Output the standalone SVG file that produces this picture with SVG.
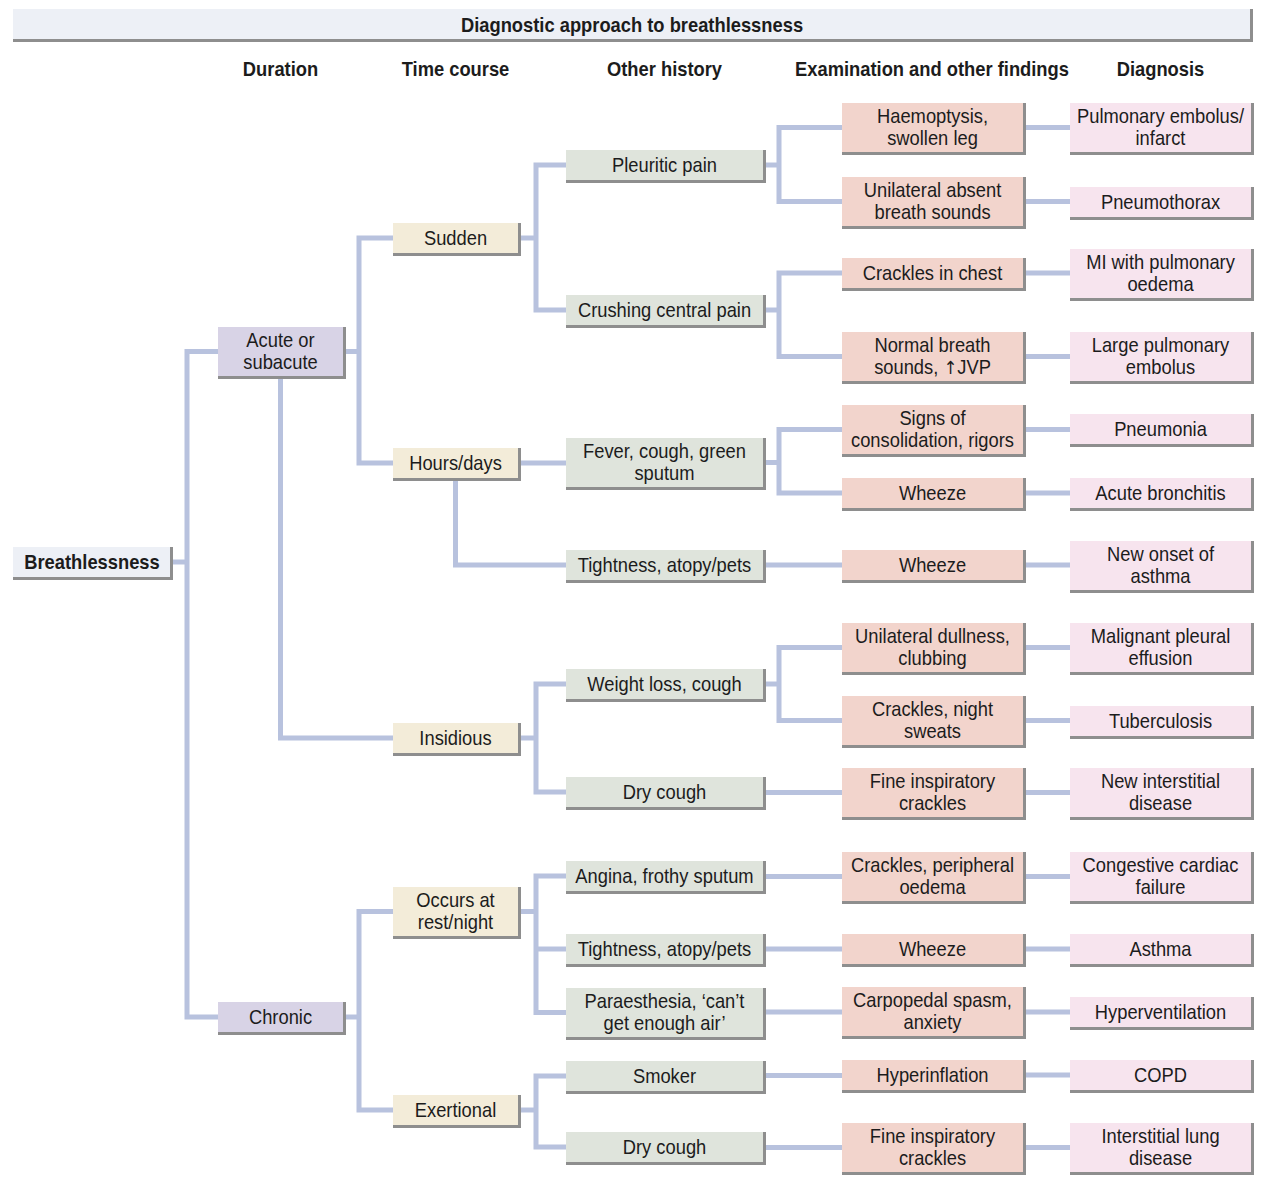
<svg xmlns="http://www.w3.org/2000/svg" width="1272" height="1179" viewBox="0 0 1272 1179">
<style>
.sh{fill:#8e8e8e}
.bl{fill:#edf0f6}.du{fill:#d8d3e6}.tc{fill:#f3ecd9}.oh{fill:#dfe4dc}.ex{fill:#f2d4cc}.dx{fill:#f7e4ee}
text{font-family:"Liberation Sans",Arial,sans-serif;font-size:20px;fill:#1c1c1c;text-anchor:middle}
.b{font-weight:bold}
.ar{font-family:"DejaVu Sans",sans-serif;font-size:18px}
#connectors path{stroke:#b8c2de;stroke-width:5;fill:none;stroke-linejoin:miter}
</style>
<rect width="1272" height="1179" fill="#ffffff"/>
<g id="title">
<rect class="sh" x="13" y="9" width="1240" height="33"/>
<rect class="bl" x="13" y="9" width="1237" height="30"/>
<text class="b" transform="translate(632 0) scale(0.917 1)" y="32">Diagnostic approach to breathlessness</text>
</g>
<g id="headers">
<text class="b" transform="translate(280.5 0) scale(0.917 1)" y="76">Duration</text>
<text class="b" transform="translate(455.5 0) scale(0.917 1)" y="76">Time course</text>
<text class="b" transform="translate(664.5 0) scale(0.917 1)" y="76">Other history</text>
<text class="b" transform="translate(932 0) scale(0.917 1)" y="76">Examination and other findings</text>
<text class="b" transform="translate(1160.5 0) scale(0.917 1)" y="76">Diagnosis</text>
</g>
<g id="connectors">
<path d="M170,562 H187"/>
<path d="M218,351.5 H187 V1017 H218"/>
<path d="M343,351.5 H359"/>
<path d="M393,238 H359 V463 H393"/>
<path d="M280.5,376 V738 H393"/>
<path d="M518,238 H536"/>
<path d="M566,165 H536 V310 H566"/>
<path d="M518,463 H566"/>
<path d="M455.5,478 V565 H566"/>
<path d="M518,738 H536"/>
<path d="M566,684 H536 V792 H566"/>
<path d="M343,1017 H359"/>
<path d="M393,911.5 H359 V1110 H393"/>
<path d="M518,911.5 H536"/>
<path d="M566,876 H536 V1012.5 H566"/>
<path d="M536,949 H566"/>
<path d="M518,1110 H536"/>
<path d="M566,1076 H536 V1147 H566"/>
<path d="M763,165 H779"/>
<path d="M842,127.5 H779 V201.5 H842"/>
<path d="M763,310 H779"/>
<path d="M842,273 H779 V356.5 H842"/>
<path d="M763,462.5 H779"/>
<path d="M842,429.5 H779 V493 H842"/>
<path d="M763,565 H842"/>
<path d="M763,684 H779"/>
<path d="M842,647.5 H779 V720.5 H842"/>
<path d="M763,792.5 H842"/>
<path d="M763,876.5 H842"/>
<path d="M763,949 H842"/>
<path d="M763,1012 H842"/>
<path d="M763,1075.5 H842"/>
<path d="M763,1147.5 H842"/>
<path d="M1023,127.5 H1070"/>
<path d="M1023,201.5 H1070"/>
<path d="M1023,273 H1070"/>
<path d="M1023,356.5 H1070"/>
<path d="M1023,429.5 H1070"/>
<path d="M1023,493 H1070"/>
<path d="M1023,565 H1070"/>
<path d="M1023,647.5 H1070"/>
<path d="M1023,720.5 H1070"/>
<path d="M1023,792.5 H1070"/>
<path d="M1023,876.5 H1070"/>
<path d="M1023,949 H1070"/>
<path d="M1023,1012 H1070"/>
<path d="M1023,1075 H1070"/>
<path d="M1023,1147.5 H1070"/>
</g>
<g id="n-breathlessness"><rect class="sh" x="13" y="547" width="160" height="33"/><rect class="bl" x="13" y="547" width="157" height="30"/><text class="b" transform="translate(92 0) scale(0.917 1)" y="569">Breathlessness</text></g>
<g id="n-acute"><rect class="sh" x="218" y="327" width="128" height="52"/><rect class="du" x="218" y="327" width="125" height="49"/><text transform="translate(280.5 0) scale(0.917 1)" y="347"><tspan x="0">Acute or</tspan><tspan x="0" dy="22">subacute</tspan></text></g>
<g id="n-chronic"><rect class="sh" x="218" y="1002" width="128" height="33"/><rect class="du" x="218" y="1002" width="125" height="30"/><text transform="translate(280.5 0) scale(0.917 1)" y="1024">Chronic</text></g>
<g id="n-sudden"><rect class="sh" x="393" y="223" width="128" height="33"/><rect class="tc" x="393" y="223" width="125" height="30"/><text transform="translate(455.5 0) scale(0.917 1)" y="245">Sudden</text></g>
<g id="n-hours"><rect class="sh" x="393" y="448" width="128" height="33"/><rect class="tc" x="393" y="448" width="125" height="30"/><text transform="translate(455.5 0) scale(0.917 1)" y="470">Hours/days</text></g>
<g id="n-insidious"><rect class="sh" x="393" y="723" width="128" height="33"/><rect class="tc" x="393" y="723" width="125" height="30"/><text transform="translate(455.5 0) scale(0.917 1)" y="745">Insidious</text></g>
<g id="n-occurs"><rect class="sh" x="393" y="887" width="128" height="52"/><rect class="tc" x="393" y="887" width="125" height="49"/><text transform="translate(455.5 0) scale(0.917 1)" y="907"><tspan x="0">Occurs at</tspan><tspan x="0" dy="22">rest/night</tspan></text></g>
<g id="n-exertional"><rect class="sh" x="393" y="1095" width="128" height="33"/><rect class="tc" x="393" y="1095" width="125" height="30"/><text transform="translate(455.5 0) scale(0.917 1)" y="1117">Exertional</text></g>
<g id="n-pleuritic"><rect class="sh" x="566" y="150" width="200" height="33"/><rect class="oh" x="566" y="150" width="197" height="30"/><text transform="translate(664.5 0) scale(0.917 1)" y="172">Pleuritic pain</text></g>
<g id="n-crushing"><rect class="sh" x="566" y="295" width="200" height="33"/><rect class="oh" x="566" y="295" width="197" height="30"/><text transform="translate(664.5 0) scale(0.917 1)" y="317">Crushing central pain</text></g>
<g id="n-fever"><rect class="sh" x="566" y="438" width="200" height="52"/><rect class="oh" x="566" y="438" width="197" height="49"/><text transform="translate(664.5 0) scale(0.917 1)" y="458"><tspan x="0">Fever, cough, green</tspan><tspan x="0" dy="22">sputum</tspan></text></g>
<g id="n-tightness1"><rect class="sh" x="566" y="550" width="200" height="33"/><rect class="oh" x="566" y="550" width="197" height="30"/><text transform="translate(664.5 0) scale(0.917 1)" y="572">Tightness, atopy/pets</text></g>
<g id="n-weightloss"><rect class="sh" x="566" y="669" width="200" height="33"/><rect class="oh" x="566" y="669" width="197" height="30"/><text transform="translate(664.5 0) scale(0.917 1)" y="691">Weight loss, cough</text></g>
<g id="n-drycough1"><rect class="sh" x="566" y="777" width="200" height="33"/><rect class="oh" x="566" y="777" width="197" height="30"/><text transform="translate(664.5 0) scale(0.917 1)" y="799">Dry cough</text></g>
<g id="n-angina"><rect class="sh" x="566" y="861" width="200" height="33"/><rect class="oh" x="566" y="861" width="197" height="30"/><text transform="translate(664.5 0) scale(0.917 1)" y="883">Angina, frothy sputum</text></g>
<g id="n-tightness2"><rect class="sh" x="566" y="934" width="200" height="33"/><rect class="oh" x="566" y="934" width="197" height="30"/><text transform="translate(664.5 0) scale(0.917 1)" y="956">Tightness, atopy/pets</text></g>
<g id="n-paraesthesia"><rect class="sh" x="566" y="988" width="200" height="52"/><rect class="oh" x="566" y="988" width="197" height="49"/><text transform="translate(664.5 0) scale(0.917 1)" y="1008"><tspan x="0">Paraesthesia, ‘can’t</tspan><tspan x="0" dy="22">get enough air’</tspan></text></g>
<g id="n-smoker"><rect class="sh" x="566" y="1061" width="200" height="33"/><rect class="oh" x="566" y="1061" width="197" height="30"/><text transform="translate(664.5 0) scale(0.917 1)" y="1083">Smoker</text></g>
<g id="n-drycough2"><rect class="sh" x="566" y="1132" width="200" height="33"/><rect class="oh" x="566" y="1132" width="197" height="30"/><text transform="translate(664.5 0) scale(0.917 1)" y="1154">Dry cough</text></g>
<g id="n-haemoptysis"><rect class="sh" x="842" y="103" width="184" height="52"/><rect class="ex" x="842" y="103" width="181" height="49"/><text transform="translate(932.5 0) scale(0.917 1)" y="123"><tspan x="0">Haemoptysis,</tspan><tspan x="0" dy="22">swollen leg</tspan></text></g>
<g id="n-unilateralabsent"><rect class="sh" x="842" y="177" width="184" height="52"/><rect class="ex" x="842" y="177" width="181" height="49"/><text transform="translate(932.5 0) scale(0.917 1)" y="197"><tspan x="0">Unilateral absent</tspan><tspan x="0" dy="22">breath sounds</tspan></text></g>
<g id="n-cracklesinchest"><rect class="sh" x="842" y="258" width="184" height="33"/><rect class="ex" x="842" y="258" width="181" height="30"/><text transform="translate(932.5 0) scale(0.917 1)" y="280">Crackles in chest</text></g>
<g id="n-normalbreath"><rect class="sh" x="842" y="332" width="184" height="52"/><rect class="ex" x="842" y="332" width="181" height="49"/><text transform="translate(932.5 0) scale(0.917 1)" y="352"><tspan x="0">Normal breath</tspan><tspan x="0" dy="22">sounds, <tspan class="ar">↑</tspan>JVP</tspan></text></g>
<g id="n-signs"><rect class="sh" x="842" y="405" width="184" height="52"/><rect class="ex" x="842" y="405" width="181" height="49"/><text transform="translate(932.5 0) scale(0.917 1)" y="425"><tspan x="0">Signs of</tspan><tspan x="0" dy="22">consolidation, rigors</tspan></text></g>
<g id="n-wheeze1"><rect class="sh" x="842" y="478" width="184" height="33"/><rect class="ex" x="842" y="478" width="181" height="30"/><text transform="translate(932.5 0) scale(0.917 1)" y="500">Wheeze</text></g>
<g id="n-wheeze2"><rect class="sh" x="842" y="550" width="184" height="33"/><rect class="ex" x="842" y="550" width="181" height="30"/><text transform="translate(932.5 0) scale(0.917 1)" y="572">Wheeze</text></g>
<g id="n-dullness"><rect class="sh" x="842" y="623" width="184" height="52"/><rect class="ex" x="842" y="623" width="181" height="49"/><text transform="translate(932.5 0) scale(0.917 1)" y="643"><tspan x="0">Unilateral dullness,</tspan><tspan x="0" dy="22">clubbing</tspan></text></g>
<g id="n-nightsweats"><rect class="sh" x="842" y="696" width="184" height="52"/><rect class="ex" x="842" y="696" width="181" height="49"/><text transform="translate(932.5 0) scale(0.917 1)" y="716"><tspan x="0">Crackles, night</tspan><tspan x="0" dy="22">sweats</tspan></text></g>
<g id="n-fine1"><rect class="sh" x="842" y="768" width="184" height="52"/><rect class="ex" x="842" y="768" width="181" height="49"/><text transform="translate(932.5 0) scale(0.917 1)" y="788"><tspan x="0">Fine inspiratory</tspan><tspan x="0" dy="22">crackles</tspan></text></g>
<g id="n-peripheral"><rect class="sh" x="842" y="852" width="184" height="52"/><rect class="ex" x="842" y="852" width="181" height="49"/><text transform="translate(932.5 0) scale(0.917 1)" y="872"><tspan x="0">Crackles, peripheral</tspan><tspan x="0" dy="22">oedema</tspan></text></g>
<g id="n-wheeze3"><rect class="sh" x="842" y="934" width="184" height="33"/><rect class="ex" x="842" y="934" width="181" height="30"/><text transform="translate(932.5 0) scale(0.917 1)" y="956">Wheeze</text></g>
<g id="n-carpopedal"><rect class="sh" x="842" y="987" width="184" height="52"/><rect class="ex" x="842" y="987" width="181" height="49"/><text transform="translate(932.5 0) scale(0.917 1)" y="1007"><tspan x="0">Carpopedal spasm,</tspan><tspan x="0" dy="22">anxiety</tspan></text></g>
<g id="n-hyperinflation"><rect class="sh" x="842" y="1060" width="184" height="33"/><rect class="ex" x="842" y="1060" width="181" height="30"/><text transform="translate(932.5 0) scale(0.917 1)" y="1082">Hyperinflation</text></g>
<g id="n-fine2"><rect class="sh" x="842" y="1123" width="184" height="52"/><rect class="ex" x="842" y="1123" width="181" height="49"/><text transform="translate(932.5 0) scale(0.917 1)" y="1143"><tspan x="0">Fine inspiratory</tspan><tspan x="0" dy="22">crackles</tspan></text></g>
<g id="d-pe"><rect class="sh" x="1070" y="103" width="184" height="52"/><rect class="dx" x="1070" y="103" width="181" height="49"/><text transform="translate(1160.5 0) scale(0.917 1)" y="123"><tspan x="0">Pulmonary embolus/</tspan><tspan x="0" dy="22">infarct</tspan></text></g>
<g id="d-pneumothorax"><rect class="sh" x="1070" y="187" width="184" height="33"/><rect class="dx" x="1070" y="187" width="181" height="30"/><text transform="translate(1160.5 0) scale(0.917 1)" y="209">Pneumothorax</text></g>
<g id="d-mi"><rect class="sh" x="1070" y="249" width="184" height="52"/><rect class="dx" x="1070" y="249" width="181" height="49"/><text transform="translate(1160.5 0) scale(0.917 1)" y="269"><tspan x="0">MI with pulmonary</tspan><tspan x="0" dy="22">oedema</tspan></text></g>
<g id="d-largepe"><rect class="sh" x="1070" y="332" width="184" height="52"/><rect class="dx" x="1070" y="332" width="181" height="49"/><text transform="translate(1160.5 0) scale(0.917 1)" y="352"><tspan x="0">Large pulmonary</tspan><tspan x="0" dy="22">embolus</tspan></text></g>
<g id="d-pneumonia"><rect class="sh" x="1070" y="414" width="184" height="33"/><rect class="dx" x="1070" y="414" width="181" height="30"/><text transform="translate(1160.5 0) scale(0.917 1)" y="436">Pneumonia</text></g>
<g id="d-bronchitis"><rect class="sh" x="1070" y="478" width="184" height="33"/><rect class="dx" x="1070" y="478" width="181" height="30"/><text transform="translate(1160.5 0) scale(0.917 1)" y="500">Acute bronchitis</text></g>
<g id="d-newasthma"><rect class="sh" x="1070" y="541" width="184" height="52"/><rect class="dx" x="1070" y="541" width="181" height="49"/><text transform="translate(1160.5 0) scale(0.917 1)" y="561"><tspan x="0">New onset of</tspan><tspan x="0" dy="22">asthma</tspan></text></g>
<g id="d-malignant"><rect class="sh" x="1070" y="623" width="184" height="52"/><rect class="dx" x="1070" y="623" width="181" height="49"/><text transform="translate(1160.5 0) scale(0.917 1)" y="643"><tspan x="0">Malignant pleural</tspan><tspan x="0" dy="22">effusion</tspan></text></g>
<g id="d-tb"><rect class="sh" x="1070" y="706" width="184" height="33"/><rect class="dx" x="1070" y="706" width="181" height="30"/><text transform="translate(1160.5 0) scale(0.917 1)" y="728">Tuberculosis</text></g>
<g id="d-newinterstitial"><rect class="sh" x="1070" y="768" width="184" height="52"/><rect class="dx" x="1070" y="768" width="181" height="49"/><text transform="translate(1160.5 0) scale(0.917 1)" y="788"><tspan x="0">New interstitial</tspan><tspan x="0" dy="22">disease</tspan></text></g>
<g id="d-ccf"><rect class="sh" x="1070" y="852" width="184" height="52"/><rect class="dx" x="1070" y="852" width="181" height="49"/><text transform="translate(1160.5 0) scale(0.917 1)" y="872"><tspan x="0">Congestive cardiac</tspan><tspan x="0" dy="22">failure</tspan></text></g>
<g id="d-asthma"><rect class="sh" x="1070" y="934" width="184" height="33"/><rect class="dx" x="1070" y="934" width="181" height="30"/><text transform="translate(1160.5 0) scale(0.917 1)" y="956">Asthma</text></g>
<g id="d-hyperventilation"><rect class="sh" x="1070" y="997" width="184" height="33"/><rect class="dx" x="1070" y="997" width="181" height="30"/><text transform="translate(1160.5 0) scale(0.917 1)" y="1019">Hyperventilation</text></g>
<g id="d-copd"><rect class="sh" x="1070" y="1060" width="184" height="33"/><rect class="dx" x="1070" y="1060" width="181" height="30"/><text transform="translate(1160.5 0) scale(0.917 1)" y="1082">COPD</text></g>
<g id="d-ild"><rect class="sh" x="1070" y="1123" width="184" height="52"/><rect class="dx" x="1070" y="1123" width="181" height="49"/><text transform="translate(1160.5 0) scale(0.917 1)" y="1143"><tspan x="0">Interstitial lung</tspan><tspan x="0" dy="22">disease</tspan></text></g>
</svg>
